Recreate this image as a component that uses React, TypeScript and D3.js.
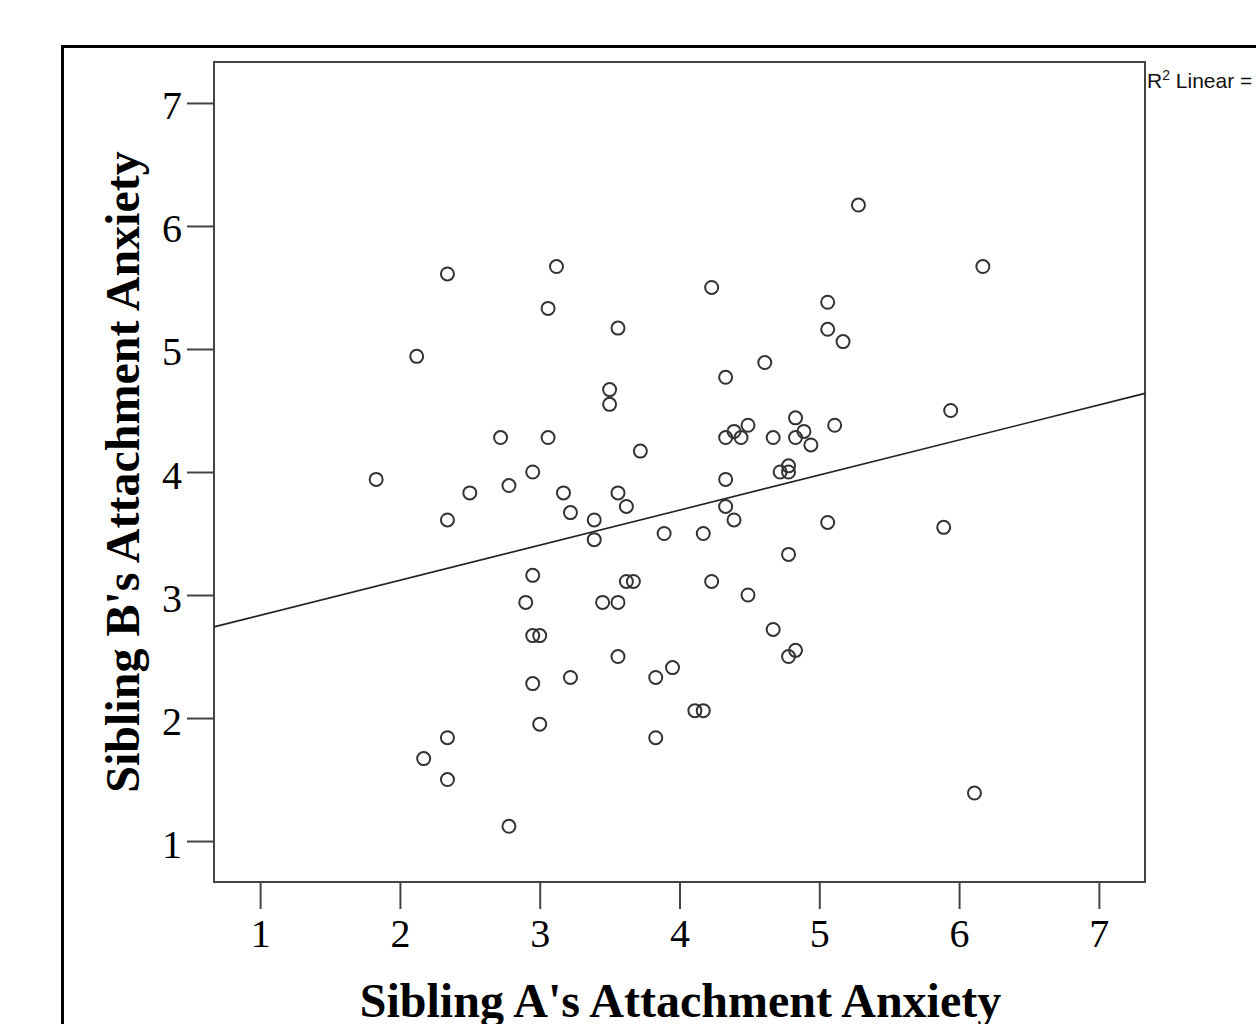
import React, { useRef, useEffect } from "react";
import * as d3 from "d3";

// sibling A (x) and sibling B (y) attachment anxiety
const siblingA = [
  1.83, 2.12, 2.34, 2.17, 2.34, 2.34, 2.34, 2.5, 2.72, 2.78, 2.78, 2.95, 3.06,
  3.06, 3.12, 2.95, 2.9, 2.95, 3.0, 2.95, 3.0, 3.17, 3.22, 3.22, 3.39, 3.39,
  3.45, 3.56, 3.56, 3.5, 3.5, 3.56, 3.56, 3.62, 3.62, 3.67, 3.72, 3.83, 3.83,
  3.95, 3.89, 4.11, 4.17, 4.17, 4.23, 4.23, 4.33, 4.33, 4.39, 4.44, 4.49, 4.33,
  4.33, 4.39, 4.49, 4.61, 4.67, 4.67, 4.72, 4.78, 4.78, 4.78, 4.78, 4.83, 4.83,
  4.83, 4.89, 4.94, 5.06, 5.06, 5.17, 5.11, 5.06, 5.28, 5.89, 5.94, 6.17, 6.11,
];
const siblingB = [
  3.94, 4.94, 5.61, 1.67, 1.84, 1.5, 3.61, 3.83, 4.28, 3.89, 1.12, 4.0, 4.28,
  5.33, 5.67, 3.16, 2.94, 2.67, 2.67, 2.28, 1.95, 3.83, 3.67, 2.33, 3.61, 3.45,
  2.94, 2.94, 2.5, 4.67, 4.55, 5.17, 3.83, 3.72, 3.11, 3.11, 4.17, 2.33, 1.84,
  2.41, 3.5, 2.06, 2.06, 3.5, 5.5, 3.11, 4.77, 4.28, 4.33, 4.28, 4.38, 3.94,
  3.72, 3.61, 3.0, 4.89, 4.28, 2.72, 4.0, 4.05, 4.0, 3.33, 2.5, 2.55, 4.44,
  4.28, 4.33, 4.22, 5.38, 5.16, 5.06, 4.38, 3.59, 6.17, 3.55, 4.5, 5.67, 1.39,
];
const xTicks = [1, 2, 3, 4, 5, 6, 7];
const yTicks = [1, 2, 3, 4, 5, 6, 7];
// fit line: y = intercept + slope * x
const fitIntercept = 2.55;
const fitSlope = 0.285;

const width = 1256;
const height = 1024;
const plot = { left: 214, right: 1145, top: 62, bottom: 882 };
const serif = "'Liberation Serif', 'Times New Roman', serif";

function App() {
  const svgRef = useRef(null);

  useEffect(() => {
    const svg = d3.select(svgRef.current);
    svg.selectAll("*").remove();

    const x = d3.scaleLinear().domain([0.67, 7.33]).range([plot.left, plot.right]);
    const y = d3.scaleLinear().domain([0.667, 7.333]).range([plot.bottom, plot.top]);

    // outer frame
    svg
      .append("path")
      .attr("d", `M62.5,${height + 5}V46.5H${width + 5}`)
      .attr("fill", "none")
      .attr("stroke", "#000")
      .attr("stroke-width", 3);

    // plot frame
    svg
      .append("rect")
      .attr("x", plot.left)
      .attr("y", plot.top)
      .attr("width", plot.right - plot.left)
      .attr("height", plot.bottom - plot.top)
      .attr("fill", "none")
      .attr("stroke", "#444")
      .attr("stroke-width", 2);

    const yAxis = svg
      .append("g")
      .attr("transform", `translate(${plot.left},0)`)
      .call(d3.axisLeft(y).tickValues(yTicks).tickSize(27).tickPadding(5).tickFormat(d3.format("d")));
    yAxis.select(".domain").remove();
    yAxis.selectAll("line").attr("stroke", "#444").attr("stroke-width", 2);
    yAxis
      .selectAll("text")
      .attr("dy", "0.4em")
      .attr("fill", "#000")
      .style("font-family", serif)
      .style("font-size", "40px");

    const xAxis = svg
      .append("g")
      .attr("transform", `translate(0,${plot.bottom})`)
      .call(d3.axisBottom(x).tickValues(xTicks).tickSize(27).tickPadding(10).tickFormat(d3.format("d")));
    xAxis.select(".domain").remove();
    xAxis.selectAll("line").attr("stroke", "#444").attr("stroke-width", 2);
    xAxis
      .selectAll("text")
      .attr("fill", "#000")
      .style("font-family", serif)
      .style("font-size", "40px");

    // regression line
    const [x0, x1] = x.domain();
    svg
      .append("line")
      .attr("x1", x(x0))
      .attr("y1", y(fitIntercept + fitSlope * x0))
      .attr("x2", x(x1))
      .attr("y2", y(fitIntercept + fitSlope * x1))
      .attr("stroke", "#222")
      .attr("stroke-width", 1.6);

    svg
      .selectAll(".pt")
      .data(siblingA.map((a, i) => [a, siblingB[i]]))
      .join("circle")
      .attr("class", "pt")
      .attr("cx", (d) => x(d[0]))
      .attr("cy", (d) => y(d[1]))
      .attr("r", 6.5)
      .attr("fill", "none")
      .attr("stroke", "#333")
      .attr("stroke-width", 2);

    svg
      .append("text")
      .attr("x", (plot.left + plot.right) / 2 + 1)
      .attr("y", 1017)
      .attr("text-anchor", "middle")
      .style("font-family", serif)
      .style("font-size", "48px")
      .style("font-weight", "bold")
      .text("Sibling A's Attachment Anxiety");

    svg
      .append("text")
      .attr("transform", `translate(139,${(plot.top + plot.bottom) / 2}) rotate(-90)`)
      .attr("text-anchor", "middle")
      .style("font-family", serif)
      .style("font-size", "48px")
      .style("font-weight", "bold")
      .text("Sibling B's Attachment Anxiety");

    const r2 = svg
      .append("text")
      .attr("x", plot.right + 2)
      .attr("y", 88)
      .style("font-family", "'Liberation Sans', Arial, sans-serif")
      .style("font-size", "21px")
      .attr("fill", "#111");
    r2.append("tspan").text("R");
    r2.append("tspan").attr("dy", -8).style("font-size", "14px").text("2");
    r2.append("tspan").attr("dy", 8).text(" Linear =");
  }, []);

  return (
    <div style={{ position: "absolute", left: 0, top: 0, width, height, overflow: "hidden", background: "#fff" }}>
      <svg ref={svgRef} width={width} height={height}></svg>
    </div>
  );
}

export default App;
